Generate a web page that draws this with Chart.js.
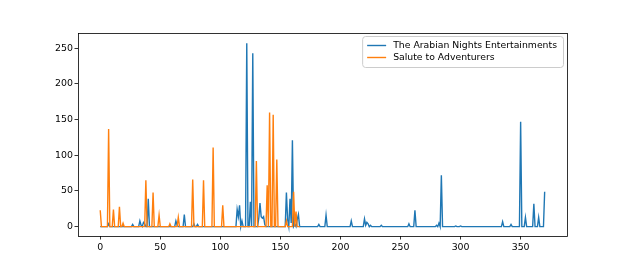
<!DOCTYPE html>
<html lang="en">
<head>
    <meta charset="UTF-8">
    <title>Arabian Nights vs Salute to Adventurers</title>
    <script src="https://cdn.jsdelivr.net/npm/chart.js"></script>
    <style>
        body {
            margin: 0;
            background-color: #fff;
        }
        #wrap {
            width: 630px;
            height: 270px;
        }
    </style>
</head>
<body>
    <div id="wrap">
        <canvas id="lineChart" width="630" height="270"></canvas>
    </div>

    <script>
        // series labels
        const seriesNames = ['The Arabian Nights Entertainments', 'Salute to Adventurers'];

        // The Arabian Nights Entertainments (x position, value)
        const arabianX = [0, 6, 7, 8, 26, 27, 28, 32, 33, 34, 35, 36, 37, 38, 39, 40, 41,
            62, 63, 64, 65, 69, 70, 71, 77, 78, 79, 80, 81, 82,
            113, 114, 115, 116, 117, 118, 119, 121, 122, 123, 124, 125, 126, 127, 128,
            131, 132, 133, 134, 135, 136, 137, 138,
            154, 155, 156, 157, 158, 159, 160, 161, 162, 163, 164, 165, 166,
            181, 182, 183, 187, 188, 189, 208, 209, 210,
            219, 220, 221, 222, 223, 224, 225, 226, 233, 234, 235,
            256, 257, 258, 261, 262, 263, 279, 280, 281, 282, 283, 284, 285,
            295, 296, 297, 299, 300, 301, 334, 335, 336, 341, 342, 343,
            349, 350, 351, 353, 354, 355, 360, 361, 362, 364, 365, 366, 369, 370];
        const arabianY = [0, 0, 4, 0, 0, 3, 0, 0, 8, 2, 0, 6, 4, 0, 0, 39, 0,
            0, 8, 2, 0, 0, 17, 0, 0, 4, 0, 0, 3, 0,
            0, 24, 14, 30, 0, 8, 0, 0, 257, 0, 0, 35, 0, 243, 0,
            0, 12, 33, 14, 12, 14, 3, 0,
            0, 48, 10, 0, 39, 5, 121, 0, 3, 0, 10, 17, 0,
            0, 3, 0, 0, 16, 0, 0, 8, 0,
            0, 11, 2, 6, 4, 0, 2, 0, 0, 2, 0,
            0, 4, 0, 0, 23, 0, 0, 2, 0, 5, 0, 72, 0,
            0, 1, 0, 0, 1, 0, 0, 7, 0, 0, 3, 0,
            0, 147, 0, 0, 13, 0, 0, 32, 0, 0, 13, 0, 0, 49];

        // Salute to Adventurers (x position, value)
        const saluteX = [0, 1, 6, 7, 8, 10, 11, 12, 15, 16, 17, 18, 19, 20,
            37, 38, 39, 43, 44, 45, 48, 49, 50, 57, 58, 59, 64, 65, 66,
            76, 77, 78, 85, 86, 87, 93, 94, 95, 101, 102, 103,
            129, 130, 131, 138, 139, 140, 141, 142, 143, 144, 145, 146, 147, 148,
            154, 155, 156, 160, 161, 162, 163, 164, 166];
        const saluteY = [23, 0, 0, 137, 0, 0, 24, 0, 0, 28, 0, 0, 5, 0,
            0, 65, 0, 0, 48, 0, 0, 16, 0, 0, 4, 0, 0, 13, 0,
            0, 66, 0, 0, 65, 0, 0, 111, 0, 0, 30, 0,
            0, 92, 0, 0, 58, 0, 160, 0, 0, 157, 0, 0, 94, 0,
            0, 8, 0, 0, 49, 0, 21, 0, 0];

        // tick labels
        const xTicks = [0, 50, 100, 150, 200, 250, 300, 350];
        const yTicks = [0, 50, 100, 150, 200, 250];

        const colors = ['#1f77b4', '#ff7f0e'];
        const fontFamily = "'DejaVu Sans', sans-serif";

        function toPoints(xs, ys) {
            return xs.map((x, i) => ({ x: x, y: ys[i] }));
        }

        // matplotlib-like frame round the plot area
        const framePlugin = {
            id: 'frame',
            afterDraw(chart) {
                const a = chart.chartArea;
                const ctx = chart.ctx;
                ctx.save();
                ctx.strokeStyle = '#000';
                ctx.lineWidth = 0.8;
                ctx.strokeRect(a.left + 0.5, a.top + 0.5, a.right - a.left, a.bottom - a.top);
                ctx.restore();
            }
        };

        // legend box in the upper right corner, inside the axes
        const legendPlugin = {
            id: 'innerLegend',
            afterDraw(chart) {
                const a = chart.chartArea;
                const ctx = chart.ctx;
                ctx.save();
                ctx.font = '9.3px ' + fontFamily;
                let textW = 0;
                chart.data.datasets.forEach(ds => {
                    textW = Math.max(textW, ctx.measureText(ds.label).width);
                });
                const w = 5 + 19 + 7 + textW + 6;
                const h = 31;
                const x = a.right - 4 - w;
                const y = a.top + 3;

                ctx.fillStyle = 'rgba(255,255,255,0.8)';
                ctx.strokeStyle = '#cccccc';
                ctx.lineWidth = 1;
                ctx.beginPath();
                ctx.roundRect(x + 0.5, y + 0.5, w, h, 3);
                ctx.fill();
                ctx.stroke();

                chart.data.datasets.forEach((ds, i) => {
                    const cy = y + 9.5 + i * 12;
                    ctx.strokeStyle = ds.borderColor;
                    ctx.lineWidth = 1.4;
                    ctx.beginPath();
                    ctx.moveTo(x + 5, cy);
                    ctx.lineTo(x + 24, cy);
                    ctx.stroke();
                    ctx.fillStyle = '#000';
                    ctx.textBaseline = 'middle';
                    ctx.fillText(ds.label, x + 31, cy);
                });
                ctx.restore();
            }
        };

        const ctx = document.getElementById('lineChart').getContext('2d');
        new Chart(ctx, {
            type: 'line',
            data: {
                datasets: [{
                    label: seriesNames[0],
                    data: toPoints(arabianX, arabianY),
                    borderColor: colors[0],
                    borderWidth: 1.4,
                    pointRadius: 0,
                    fill: false,
                    tension: 0,
                    order: 2
                }, {
                    label: seriesNames[1],
                    data: toPoints(saluteX, saluteY),
                    borderColor: colors[1],
                    borderWidth: 1.4,
                    pointRadius: 0,
                    fill: false,
                    tension: 0,
                    order: 1
                }]
            },
            options: {
                responsive: false,
                animation: false,
                layout: {
                    padding: { left: 0, right: 63, top: 33, bottom: 0 }
                },
                plugins: {
                    legend: { display: false },
                    tooltip: { enabled: false }
                },
                scales: {
                    x: {
                        type: 'linear',
                        min: -18.5,
                        max: 388.6,
                        afterBuildTicks: scale => { scale.ticks = xTicks.map(v => ({ value: v })); },
                        afterFit: scale => { scale.height = 34; },
                        grid: { drawOnChartArea: false, color: '#000', lineWidth: 0.8, tickLength: 3.5 },
                        border: { display: false },
                        ticks: { color: '#000', padding: 2, maxRotation: 0, font: { family: fontFamily, size: 9.4 } }
                    },
                    y: {
                        min: -13.1,
                        max: 271.5,
                        afterBuildTicks: scale => { scale.ticks = yTicks.map(v => ({ value: v })); },
                        afterFit: scale => { scale.width = 78; },
                        grid: { drawOnChartArea: false, color: '#000', lineWidth: 0.8, tickLength: 3.5 },
                        border: { display: false },
                        ticks: { color: '#000', padding: 1.5, font: { family: fontFamily, size: 9.4 } }
                    }
                }
            },
            plugins: [framePlugin, legendPlugin]
        });
    </script>
</body>
</html>
